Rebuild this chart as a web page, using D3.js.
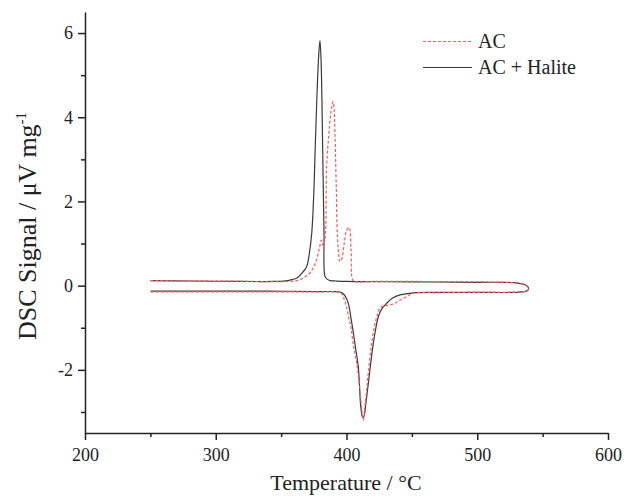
<!DOCTYPE html>
<html>
<head>
<meta charset="utf-8">
<title>DSC</title>
<script src="https://cdn.jsdelivr.net/npm/d3@7"></script>
<style>
  body, html { margin: 0; background: #fff; overflow: hidden; }
  text { font-family: "Liberation Serif", "Times New Roman", serif; fill: #222; }
  .axis path, .axis line { stroke: #222; stroke-width: 1.5; }
</style>
</head>
<body>
<div id="chart"></div>
<script>
// AC + Halite: heating branch then cooling branch (temperature, signal)
var haliteT = [250, 280, 320, 345, 355, 362, 366, 369.5, 371.5, 373.4, 375, 376, 377.5, 378.8, 379.7, 380.6, 381.8, 382.8, 383.5, 385, 387.4, 392, 400, 450, 500, 520, 528, 533, 536.5, 538.7, 539.3, 538.7, 536.5, 533, 528, 500, 470, 451, 441, 435, 430.7, 427, 424.3, 422.5, 420.5, 418.5, 416.7, 414.8, 413.4, 412.4, 411, 409, 407, 405.3, 403.3, 401.4, 399, 397, 395, 390, 380, 340, 300, 250];
var haliteS = [0.12, 0.11, 0.1, 0.1, 0.12, 0.18, 0.3, 0.45, 0.75, 1.24, 2.2, 3.2, 4.6, 5.5, 5.82, 5.3, 3.2, 1.24, 0.22, 0.16, 0.12, 0.11, 0.1, 0.09, 0.08, 0.08, 0.07, 0.05, 0.02, -0.03, -0.07, -0.11, -0.14, -0.15, -0.16, -0.16, -0.16, -0.17, -0.22, -0.3, -0.42, -0.55, -0.74, -1.0, -1.37, -1.85, -2.32, -2.8, -3.1, -3.13, -2.9, -1.92, -1.5, -1.13, -0.75, -0.42, -0.25, -0.18, -0.15, -0.14, -0.14, -0.13, -0.13, -0.13];

// AC
var acT = [250, 300, 355, 362, 368, 372, 375, 377, 379, 380.8, 382, 383.5, 384.8, 386.5, 388, 389.6, 390.5, 391.2, 392.2, 393, 394, 395, 396.5, 398, 400, 402, 403.5, 404.5, 406, 420, 450, 500, 520, 528, 533, 536.5, 538.7, 539.3, 538.7, 536.5, 533, 528, 500, 470, 451, 446, 441, 437, 433, 429, 425.6, 423.5, 421.5, 419.2, 417.2, 415.4, 414, 412.9, 411.5, 410.3, 408.5, 407, 405, 403.5, 402, 400, 398, 396, 393, 380, 340, 300, 250];
var acS = [0.12, 0.11, 0.1, 0.12, 0.2, 0.3, 0.45, 0.6, 0.85, 1.08, 0.95, 1.1, 2.83, 3.6, 4.1, 4.37, 4.2, 3.6, 2.3, 1.2, 0.75, 0.57, 0.65, 0.95, 1.3, 1.38, 0.85, 0.15, 0.1, 0.1, 0.1, 0.09, 0.08, 0.07, 0.05, 0.02, -0.03, -0.07, -0.11, -0.14, -0.15, -0.16, -0.16, -0.17, -0.18, -0.26, -0.34, -0.42, -0.46, -0.48, -0.53, -0.7, -0.95, -1.37, -1.9, -2.48, -2.9, -3.2, -2.9, -2.48, -2.0, -1.7, -1.37, -1.0, -0.8, -0.5, -0.3, -0.18, -0.15, -0.15, -0.15, -0.15, -0.15];

var xTicks = [200, 300, 400, 500, 600];
var xMinor = [250, 350, 450, 550];
var yTicks = [-2, 0, 2, 4, 6];
var yMinor = [-3, -1, 1, 3, 5];
var seriesNames = ["AC", "AC + Halite"];

var w = 633, h = 498;
var svg = d3.select("#chart").append("svg").attr("width", w).attr("height", h);

var x = d3.scaleLinear().domain([200, 600]).range([85, 608]);
var y = d3.scaleLinear().domain([-3.5, 6.5]).range([433, 12]);

// minor ticks first, majors on top
svg.append("g").attr("class", "axis").attr("transform", "translate(0,433)")
  .call(d3.axisBottom(x).tickValues(xMinor).tickSize(4).tickFormat(""))
  .call(function (g) { g.select(".domain").remove(); });
svg.append("g").attr("class", "axis").attr("transform", "translate(85,0)")
  .call(d3.axisLeft(y).tickValues(yMinor).tickSize(4).tickFormat(""))
  .call(function (g) { g.select(".domain").remove(); });

var plain = function (d) { return String(d); };

var xAxis = svg.append("g").attr("class", "axis").attr("transform", "translate(0,433)")
  .call(d3.axisBottom(x).tickValues(xTicks).tickSize(7).tickSizeOuter(0).tickPadding(8).tickFormat(plain));
xAxis.selectAll("text").style("font-size", "18px");

var yAxis = svg.append("g").attr("class", "axis").attr("transform", "translate(85,0)")
  .call(d3.axisLeft(y).tickValues(yTicks).tickSize(7).tickSizeOuter(0).tickPadding(5).tickFormat(plain));
yAxis.selectAll("text").style("font-size", "18px");

var line = d3.line().curve(d3.curveCatmullRom.alpha(0.5));

function pts(T, S) {
  return T.map(function (t, i) { return [x(t), y(S[i])]; });
}

svg.append("path")
  .attr("d", line(pts(haliteT, haliteS)))
  .attr("fill", "none").attr("stroke", "#3a3a3a").attr("stroke-width", 1.2);

svg.append("path")
  .attr("d", line(pts(acT, acS)))
  .attr("fill", "none").attr("stroke", "#f25c5c").attr("stroke-width", 1.2)
  .attr("stroke-dasharray", "3,2");

// legend
var leg = svg.append("g");
leg.append("line").attr("x1", 423).attr("x2", 472).attr("y1", 41.5).attr("y2", 41.5)
  .attr("stroke", "#f25c5c").attr("stroke-width", 1.2).attr("stroke-dasharray", "3,2");
leg.append("line").attr("x1", 423).attr("x2", 472).attr("y1", 67.5).attr("y2", 67.5)
  .attr("stroke", "#3a3a3a").attr("stroke-width", 1.2);
leg.selectAll("text").data(seriesNames).enter().append("text")
  .attr("x", 478).attr("y", function (d, i) { return 48 + i * 26; })
  .style("font-size", "20px")
  .text(function (d) { return d; });

// axis titles
svg.append("text").attr("x", 346).attr("y", 490).attr("text-anchor", "middle")
  .style("font-size", "22px").text("Temperature / °C");

var yt = svg.append("text").attr("transform", "translate(36,226) rotate(-90)")
  .attr("text-anchor", "middle").style("font-size", "26px");
yt.append("tspan").text("DSC Signal / μV mg");
yt.append("tspan").attr("dy", -10).style("font-size", "15px").text("-1");
</script>
</body>
</html>
